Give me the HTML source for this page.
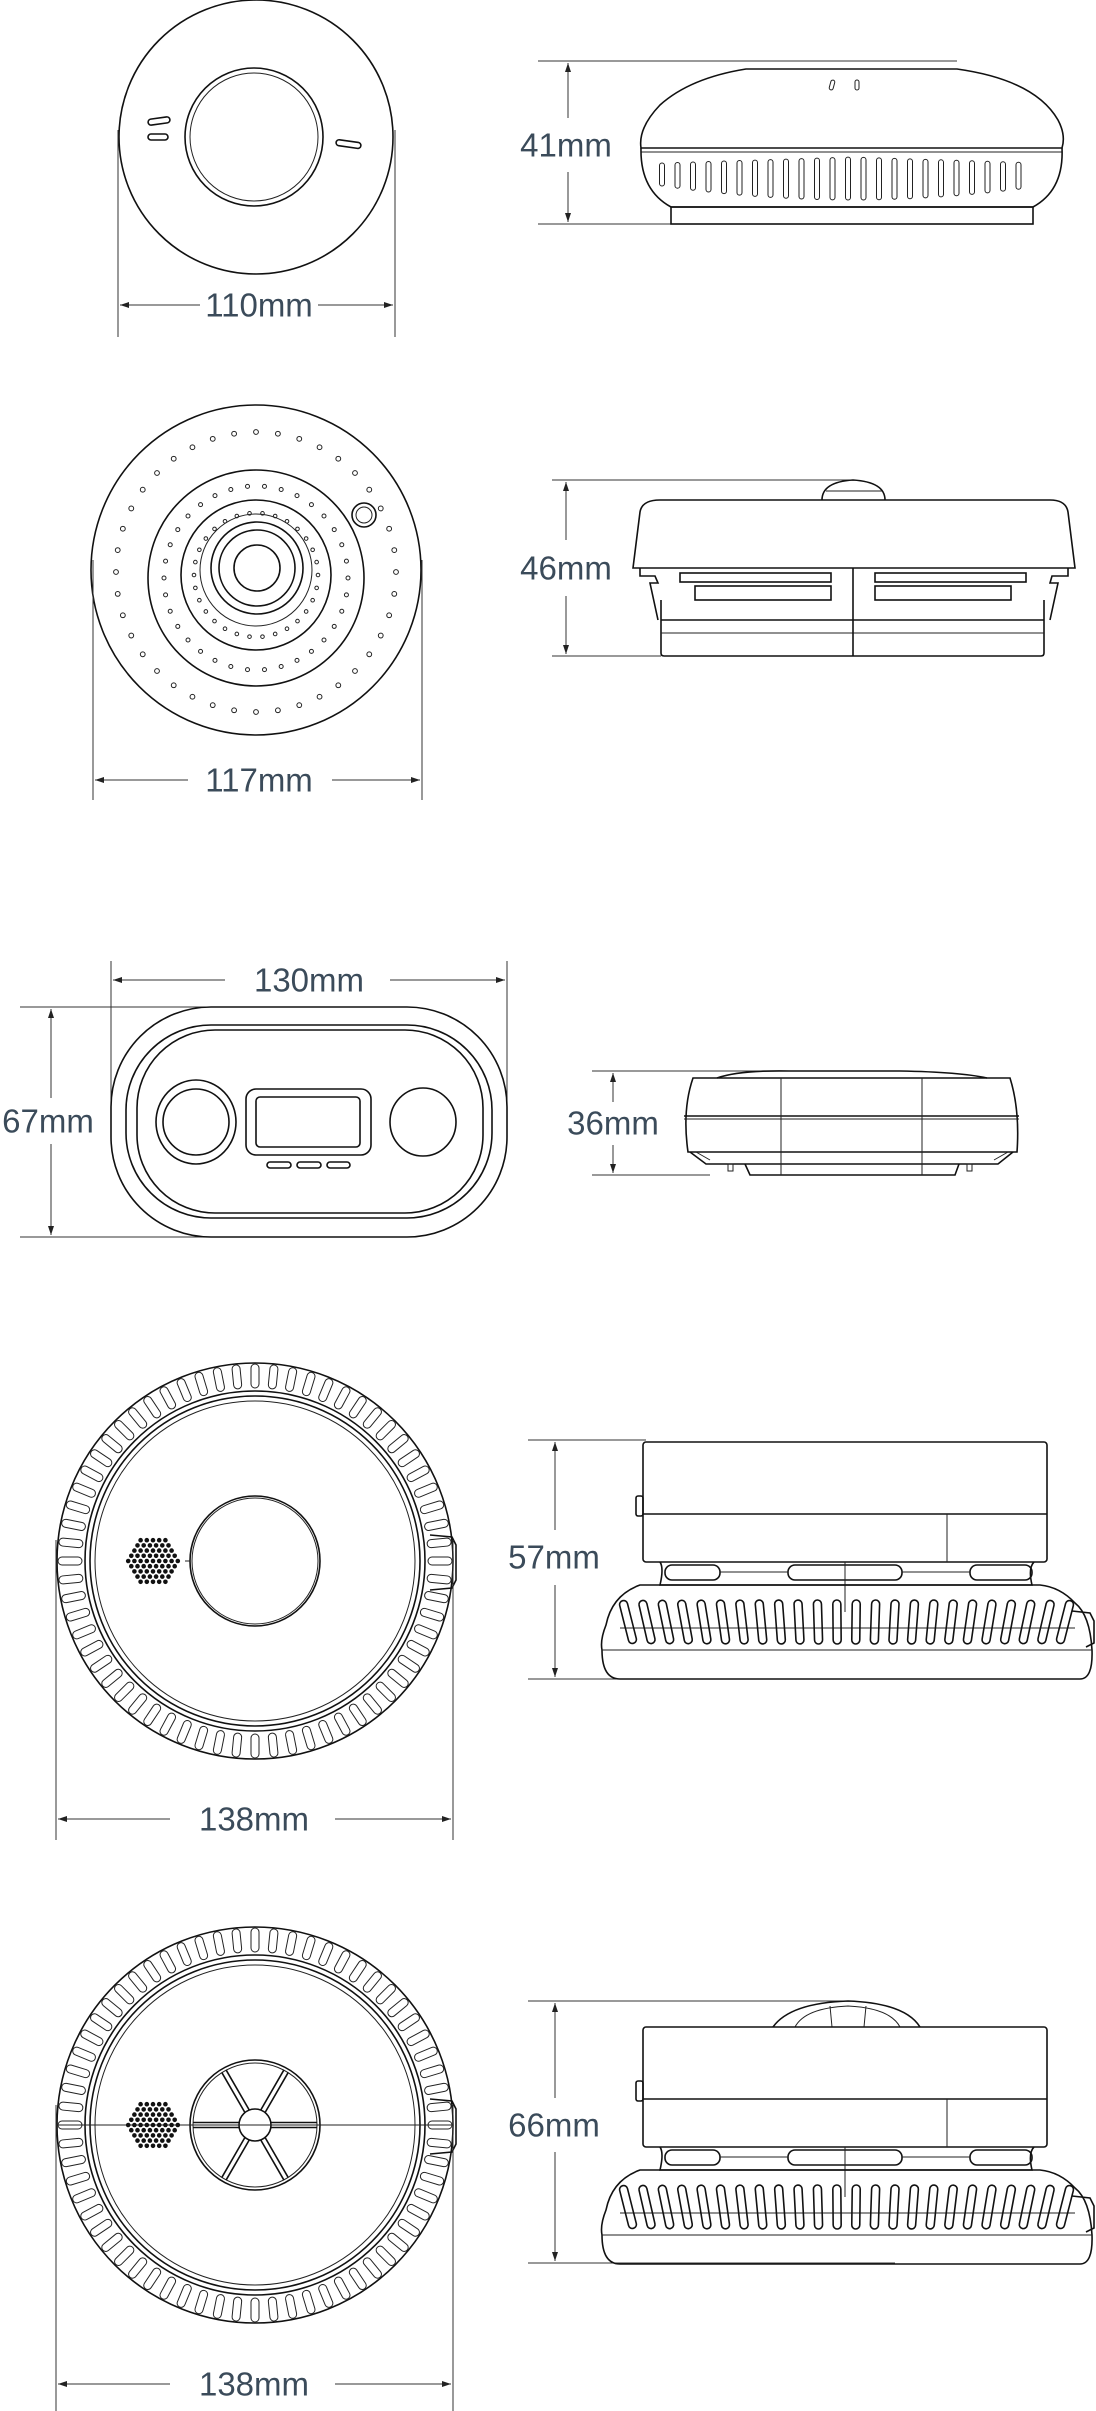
<!DOCTYPE html>
<html><head><meta charset="utf-8">
<style>
html,body{margin:0;padding:0;background:#fff;}
svg{display:block;}
.s{fill:none;stroke:#111;stroke-width:1.6;}
.t{fill:none;stroke:#222;stroke-width:1;}
.d{fill:none;stroke:#333;stroke-width:1;}
text{font-family:"Liberation Sans",sans-serif;font-size:33px;fill:#3b4b5a;text-anchor:middle;dominant-baseline:central;}
</style></head><body>
<svg id="sv" width="1096" height="2411" viewBox="0 0 1096 2411" xmlns="http://www.w3.org/2000/svg">
<defs>
<marker id="ar" markerWidth="10" markerHeight="8" refX="9" refY="4" orient="auto" markerUnits="userSpaceOnUse"><path d="M0,1 L9,4 L0,7 Z" fill="#222"/></marker>
</defs>

<!-- ===== 1: top view 110mm ===== -->
<circle class="s" cx="256" cy="137" r="137"/>
<circle class="s" cx="254" cy="137" r="69"/>
<circle class="t" cx="254" cy="137" r="64"/>
<rect class="s" x="148" y="118" width="22" height="6" rx="3" transform="rotate(-8 159 121)"/>
<rect class="s" x="148" y="134" width="20" height="6" rx="3"/>
<rect class="s" x="336" y="141" width="25" height="6" rx="3" transform="rotate(8 348 144)"/>
<line class="d" x1="118" y1="130" x2="118" y2="337"/>
<line class="d" x1="395" y1="130" x2="395" y2="337"/>
<line class="d" x1="200" y1="305" x2="120" y2="305" marker-end="url(#ar)"/>
<line class="d" x1="318" y1="305" x2="393" y2="305" marker-end="url(#ar)"/>
<text x="259" y="305">110mm</text>

<!-- ===== 1: side 41mm ===== -->
<line class="d" x1="538" y1="61" x2="957" y2="61"/>
<line class="d" x1="538" y1="224" x2="675" y2="224"/>
<line class="d" x1="568" y1="118" x2="568" y2="63" marker-end="url(#ar)"/>
<line class="d" x1="568" y1="172" x2="568" y2="222" marker-end="url(#ar)"/>
<text x="566" y="145">41mm</text>
<path class="s" d="M746,69 L957,69 Q1035,80 1058,120 Q1066,135 1062,148 L641,148 Q638,128 660,105 Q690,78 746,69 Z"/>
<line class="t" x1="641" y1="152" x2="1062" y2="152"/>
<path class="s" d="M641,148 Q640,190 671,207 L1033,207 Q1064,190 1062,148"/>
<rect class="s" x="671" y="207" width="362" height="17"/>
<rect class="t" x="830" y="80" width="4" height="10" rx="2" transform="rotate(15 832 85)"/>
<rect class="t" x="855" y="80" width="4" height="10" rx="2"/>
<g id="fins1"></g>

<!-- ===== 2: top view 117mm ===== -->
<circle class="s" cx="256" cy="570" r="165"/>
<circle class="s" cx="256" cy="578" r="108"/>
<circle class="s" cx="256" cy="575" r="75"/>
<circle class="t" cx="256" cy="570" r="56"/>
<circle class="s" cx="257" cy="568" r="46"/>
<circle class="s" cx="257" cy="568" r="38"/>
<circle class="s" cx="257" cy="568" r="23"/>
<g id="dots2"></g>
<circle class="s" cx="364" cy="515" r="12"/>
<circle class="t" cx="364" cy="515" r="8"/>
<line class="d" x1="93" y1="560" x2="93" y2="800"/>
<line class="d" x1="422" y1="560" x2="422" y2="800"/>
<line class="d" x1="188" y1="780" x2="95" y2="780" marker-end="url(#ar)"/>
<line class="d" x1="332" y1="780" x2="420" y2="780" marker-end="url(#ar)"/>
<text x="259" y="780">117mm</text>

<!-- ===== 2: side 46mm ===== -->
<line class="d" x1="552" y1="480" x2="855" y2="480"/>
<line class="d" x1="552" y1="656" x2="661" y2="656"/>
<line class="d" x1="566" y1="540" x2="566" y2="482" marker-end="url(#ar)"/>
<line class="d" x1="566" y1="596" x2="566" y2="654" marker-end="url(#ar)"/>
<text x="566" y="568">46mm</text>
<path class="s" d="M822,500 Q822,482 853,480 Q885,482 885,500"/>
<line class="t" x1="826" y1="491" x2="882" y2="491"/>
<path class="s" d="M633,568 L640,512 Q642,500 660,500 L1050,500 Q1066,500 1068,512 L1075,568 Z"/>
<path class="s" d="M640,568 L640,576 L655,576 L658,583 L650,583 L658,620 M1068,568 L1068,576 L1052,576 L1050,583 L1058,583 L1050,620"/>
<rect class="s" x="680" y="573" width="151" height="9"/>
<rect class="s" x="695" y="586" width="136" height="14"/>
<rect class="s" x="875" y="573" width="151" height="9"/>
<rect class="s" x="875" y="586" width="136" height="14"/>
<path class="s" d="M661,600 L661,653 Q661,656 664,656 L1041,656 Q1044,656 1044,653 L1044,600"/>
<line class="s" x1="661" y1="620" x2="1044" y2="620"/>
<line class="t" x1="661" y1="633" x2="1044" y2="633"/>
<line class="s" x1="853" y1="568" x2="853" y2="656"/>

<!-- ===== 3: CO front 130mm / 67mm ===== -->
<line class="d" x1="111" y1="961" x2="111" y2="1125"/>
<line class="d" x1="507" y1="961" x2="507" y2="1125"/>
<line class="d" x1="225" y1="980" x2="113" y2="980" marker-end="url(#ar)"/>
<line class="d" x1="390" y1="980" x2="505" y2="980" marker-end="url(#ar)"/>
<text x="309" y="980">130mm</text>
<line class="d" x1="20" y1="1007" x2="215" y2="1007"/>
<line class="d" x1="20" y1="1237" x2="215" y2="1237"/>
<line class="d" x1="51" y1="1098" x2="51" y2="1009" marker-end="url(#ar)"/>
<line class="d" x1="51" y1="1144" x2="51" y2="1235" marker-end="url(#ar)"/>
<text x="48" y="1121">67mm</text>
<rect class="s" x="111" y="1007" width="396" height="230" rx="100" ry="100"/>
<rect class="s" x="126" y="1025" width="366" height="193" rx="85" ry="85"/>
<rect class="s" x="137" y="1030" width="346" height="183" rx="78" ry="78"/>
<ellipse class="s" cx="196" cy="1122" rx="40" ry="42"/>
<ellipse class="s" cx="196" cy="1122" rx="33" ry="33"/>
<rect class="s" x="246" y="1089" width="125" height="66" rx="10"/>
<rect class="s" x="256" y="1097" width="104" height="50" rx="4"/>
<ellipse class="s" cx="423" cy="1122" rx="33" ry="34"/>
<rect class="s" x="267" y="1162" width="24" height="6" rx="3"/>
<rect class="s" x="297" y="1162" width="24" height="6" rx="3"/>
<rect class="s" x="327" y="1162" width="23" height="6" rx="3"/>

<!-- ===== 3: CO side 36mm ===== -->
<line class="d" x1="592" y1="1071" x2="773" y2="1071"/>
<line class="d" x1="592" y1="1175" x2="710" y2="1175"/>
<line class="d" x1="613" y1="1102" x2="613" y2="1073" marker-end="url(#ar)"/>
<line class="d" x1="613" y1="1145" x2="613" y2="1173" marker-end="url(#ar)"/>
<text x="613" y="1123">36mm</text>
<path class="s" d="M717,1078 Q740,1070 790,1071 L900,1071 Q960,1072 987,1078"/>
<path class="s" d="M693,1078 L1010,1078 Q1020,1110 1017,1152 L688,1152 Q682,1110 693,1078 Z"/>
<line class="s" x1="684" y1="1116" x2="1019" y2="1116"/>
<line class="t" x1="684" y1="1119" x2="1019" y2="1119"/>
<path class="s" d="M690,1152 L706,1164 L998,1164 L1013,1152"/>
<path class="t" d="M696,1152 L710,1160 M1008,1152 L994,1160"/>
<path class="s" d="M745,1164 L750,1175 L955,1175 L959,1164"/>
<rect class="t" x="728" y="1164" width="5" height="7"/>
<rect class="t" x="967" y="1164" width="5" height="7"/>
<line class="t" x1="781" y1="1078" x2="781" y2="1175"/>
<line class="t" x1="922" y1="1078" x2="922" y2="1175"/>

<!-- ===== 4: top view 138mm ===== -->
<circle class="s" cx="255" cy="1561" r="198"/>
<circle class="s" cx="255" cy="1561" r="170"/>
<circle class="s" cx="255" cy="1561" r="165"/>
<circle class="t" cx="255" cy="1561" r="160"/>
<g id="ridge4"></g>
<circle class="s" cx="255" cy="1561" r="65"/>
<circle class="t" cx="255" cy="1561" r="63"/>
<g id="mesh4"></g>
<line class="t" x1="185" y1="1561" x2="190" y2="1561"/>
<path class="s" d="M430,1535 L452,1537 L456,1545 L456,1580 L452,1588 L430,1590"/>
<line class="d" x1="56" y1="1540" x2="56" y2="1840"/>
<line class="d" x1="453" y1="1540" x2="453" y2="1840"/>
<line class="d" x1="170" y1="1819" x2="58" y2="1819" marker-end="url(#ar)"/>
<line class="d" x1="335" y1="1819" x2="451" y2="1819" marker-end="url(#ar)"/>
<text x="254" y="1819">138mm</text>

<!-- ===== 4: side 57mm ===== -->
<line class="d" x1="528" y1="1440" x2="646" y2="1440"/>
<line class="d" x1="528" y1="1679" x2="900" y2="1679"/>
<line class="d" x1="555" y1="1530" x2="555" y2="1442" marker-end="url(#ar)"/>
<line class="d" x1="555" y1="1585" x2="555" y2="1677" marker-end="url(#ar)"/>
<text x="554" y="1557">57mm</text>
<g id="side4"></g>

<!-- ===== 5: top view 138mm ===== -->
<circle class="s" cx="255" cy="2125" r="198"/>
<circle class="s" cx="255" cy="2125" r="170"/>
<circle class="s" cx="255" cy="2125" r="165"/>
<circle class="t" cx="255" cy="2125" r="160"/>
<g id="ridge5"></g>
<circle class="s" cx="255" cy="2125" r="65"/>
<circle class="t" cx="255" cy="2125" r="62"/>
<circle class="s" cx="255" cy="2125" r="16"/>
<g id="spokes5"></g>
<line class="t" x1="56" y1="2125" x2="453" y2="2125"/>
<g id="mesh5"></g>
<path class="s" d="M430,2099 L452,2101 L456,2109 L456,2144 L452,2152 L430,2154"/>
<line class="d" x1="56" y1="2105" x2="56" y2="2411"/>
<line class="d" x1="453" y1="2105" x2="453" y2="2411"/>
<line class="d" x1="170" y1="2384" x2="58" y2="2384" marker-end="url(#ar)"/>
<line class="d" x1="335" y1="2384" x2="451" y2="2384" marker-end="url(#ar)"/>
<text x="254" y="2384">138mm</text>

<!-- ===== 5: side 66mm ===== -->
<line class="d" x1="528" y1="2001" x2="850" y2="2001"/>
<line class="d" x1="528" y1="2263" x2="895" y2="2263"/>
<line class="d" x1="555" y1="2098" x2="555" y2="2003" marker-end="url(#ar)"/>
<line class="d" x1="555" y1="2152" x2="555" y2="2261" marker-end="url(#ar)"/>
<text x="554" y="2125">66mm</text>
<path class="s" d="M773,2027 Q790,2003 848,2001 Q905,2003 920,2027"/>
<path class="t" d="M795,2027 Q805,2008 848,2006 Q890,2008 900,2027 M830,2006 L832,2027 M866,2006 L864,2027"/>
<g id="side5"></g>
</svg>
<script>
var NS="http://www.w3.org/2000/svg";
function el(p,tag,a){var e=document.createElementNS(NS,tag);for(var k in a)e.setAttribute(k,a[k]);p.appendChild(e);return e;}
function g(id){return document.getElementById(id);}
(function(){var p=g("fins1");for(var i=0;i<24;i++){var x=662+i*15.5;
 var dx=(x-852)/190;var top=157+Math.abs(dx)*6, bot=200-Math.abs(dx)*Math.abs(dx)*14;
 el(p,"rect",{"class":"t",x:x-2.5,y:top,width:5,height:bot-top,rx:2.5});}})();
(function(){var p=g("dots2");
 function ring(cx,cy,r,n,rad){for(var i=0;i<n;i++){var a=i/n*2*Math.PI;el(p,"circle",{"class":"t",cx:cx+r*Math.cos(a),cy:cy+r*Math.sin(a),r:rad});}}
 ring(256,572,140,40,2.4);ring(256,578,92,34,2);ring(256,575,62,30,1.8);})();
function ridges(id,cy){var p=g(id);var n=64;for(var i=0;i<n;i++){var a=i/n*360;
 el(p,"rect",{"class":"t",x:255-4,y:cy-197,width:8,height:24,rx:4,transform:"rotate("+a+" 255 "+cy+")"});}}
ridges("ridge4",1561);ridges("ridge5",2125);
function mesh(id,cx,cy){var p=g(id);for(var r=-4;r<=4;r++){var n=9-Math.abs(r);for(var c=0;c<n;c++){var x=cx+(c-(n-1)/2)*6.2;var y=cy+r*5.2;
 el(p,"circle",{cx:x,cy:y,r:2.3,fill:"#111"});}}}
mesh("mesh4",153,1561);mesh("mesh5",153,2125);
(function(){var p=g("spokes5");for(var i=0;i<6;i++){var a=(i*60)*Math.PI/180;
 for(var s=-1;s<=1;s+=2){var o=2.5*s;var px=-Math.sin(a)*o,py=Math.cos(a)*o;
 el(p,"line",{"class":"s",x1:255+16*Math.cos(a)+px,y1:2125+16*Math.sin(a)+py,x2:255+62*Math.cos(a)+px,y2:2125+62*Math.sin(a)+py});}}})();
function side(id,y0){var p=g(id);
 el(p,"rect",{"class":"s",x:643,y:y0,width:404,height:120,rx:3});
 el(p,"line",{"class":"s",x1:643,y1:y0+72,x2:1047,y2:y0+72});
 el(p,"line",{"class":"t",x1:947,y1:y0+72,x2:947,y2:y0+120});
 el(p,"rect",{"class":"s",x:636,y:y0+54,width:7,height:20,rx:2});
 var m=y0+120;
 el(p,"path",{"class":"s",d:"M660,"+m+" Q664,"+(m+6)+" 660,"+(m+23)+" L1032,"+(m+23)+" Q1028,"+(m+6)+" 1034,"+m});
 el(p,"rect",{"class":"s",x:665,y:m+3,width:55,height:15,rx:7});
 el(p,"rect",{"class":"s",x:788,y:m+3,width:114,height:15,rx:7});
 el(p,"rect",{"class":"s",x:970,y:m+3,width:62,height:15,rx:7});
 el(p,"line",{"class":"t",x1:720,y1:m+10,x2:788,y2:m+10});
 el(p,"line",{"class":"t",x1:902,y1:m+10,x2:970,y2:m+10});
 el(p,"line",{"class":"t",x1:845,y1:m,x2:845,y2:m+50});
 var b=m+23, bot=y0+237;
 el(p,"path",{"class":"s",d:"M640,"+b+" Q612,"+(b+10)+" 606,"+(b+40)+" Q600,"+(b+55)+" 602,"+(b+65)+" Q602,"+(bot)+" 620,"+bot+" L1080,"+bot+" Q1093,"+bot+" 1092,"+(b+65)+" Q1090,"+(b+30)+" 1075,"+(b+18)+" Q1060,"+(b+2)+" 1040,"+b+" Z"});
 el(p,"line",{"class":"t",x1:602,y1:b+65,x2:1092,y2:b+65});
 el(p,"line",{"class":"t",x1:620,y1:b+43,x2:1075,y2:b+43});
 for(var i=0;i<24;i++){var x=628+i*19;var top=b+15, h=44;
  var sk=(x-845)/215;
  el(p,"rect",{"class":"s",x:x-4,y:top,width:8,height:h,rx:4,transform:"rotate("+(sk*14)+" "+x+" "+(top+h/2)+")"});}
 el(p,"path",{"class":"s",d:"M1072,"+(b+26)+" L1090,"+(b+28)+" L1094,"+(b+36)+" L1094,"+(b+58)+" L1086,"+(b+62)});
}
side("side4",1442);side("side5",2027);
</script>
</body></html>
